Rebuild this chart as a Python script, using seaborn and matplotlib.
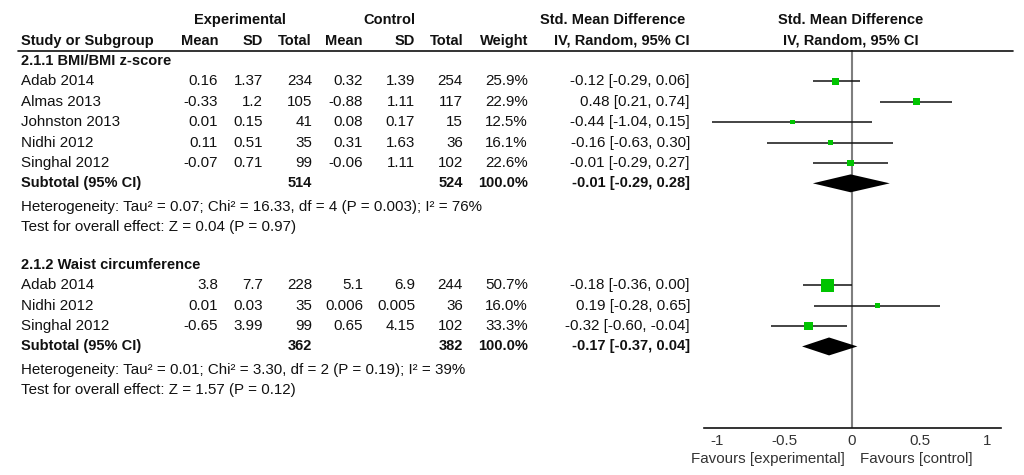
import numpy as np
import pandas as pd
import seaborn as sns
import matplotlib.pyplot as plt
from matplotlib.lines import Line2D
import matplotlib.transforms as mtransforms

'''------------------------------ Data -----------------------------------'''
grp1_title = '2.1.1 BMI/BMI z-score'
grp1_study = ['Adab 2014', 'Almas 2013', 'Johnston 2013', 'Nidhi 2012', 'Singhal 2012']
grp1_e_mean = ['0.16', '-0.33', '0.01', '0.11', '-0.07']
grp1_e_sd = ['1.37', '1.2', '0.15', '0.51', '0.71']
grp1_e_n = [234, 105, 41, 35, 99]
grp1_c_mean = ['0.32', '-0.88', '0.08', '0.31', '-0.06']
grp1_c_sd = ['1.39', '1.11', '0.17', '1.63', '1.11']
grp1_c_n = [254, 117, 15, 36, 102]
grp1_weight = [25.9, 22.9, 12.5, 16.1, 22.6]
grp1_smd = [-0.12, 0.48, -0.44, -0.16, -0.01]
grp1_lo = [-0.29, 0.21, -1.04, -0.63, -0.29]
grp1_hi = [0.06, 0.74, 0.15, 0.30, 0.27]
grp1_sub = (-0.01, -0.29, 0.28)
grp1_het = 'Heterogeneity: Tau² = 0.07; Chi² = 16.33, df = 4 (P = 0.003); I² = 76%'
grp1_test = 'Test for overall effect: Z = 0.04 (P = 0.97)'

grp2_title = '2.1.2 Waist circumference'
grp2_study = ['Adab 2014', 'Nidhi 2012', 'Singhal 2012']
grp2_e_mean = ['3.8', '0.01', '-0.65']
grp2_e_sd = ['7.7', '0.03', '3.99']
grp2_e_n = [228, 35, 99]
grp2_c_mean = ['5.1', '0.006', '0.65']
grp2_c_sd = ['6.9', '0.005', '4.15']
grp2_c_n = [244, 36, 102]
grp2_weight = [50.7, 16.0, 33.3]
grp2_smd = [-0.18, 0.19, -0.32]
grp2_lo = [-0.36, -0.28, -0.60]
grp2_hi = [0.00, 0.65, -0.04]
grp2_sub = (-0.17, -0.37, 0.04)
grp2_het = 'Heterogeneity: Tau² = 0.01; Chi² = 3.30, df = 2 (P = 0.19); I² = 39%'
grp2_test = 'Test for overall effect: Z = 1.57 (P = 0.12)'

x_ticks = [-1, -0.5, 0, 0.5, 1]
x_tick_labels = ['-1', '-0.5', '0', '0.5', '1']

'''------------------------------ Layout -----------------------------------'''
W, H = 1024, 475
sns.set_style("white")
plt.rcParams['font.family'] = ['Liberation Sans', 'DejaVu Sans']
fs = 10.9       # regular text
fs_b = 10.5     # bold text
green = '#00c400'

# columns (pixel x, right aligned)
col_study = 21
col_right = [218, 263, 312, 363, 415, 463, 528, 690]

fig = plt.figure(figsize=(W / 100, H / 100), dpi=100)
ax = fig.add_axes([704 / W, (H - 428) / H, 297 / W, 378 / H])
ax.set_xlim((704 - 852) / 135, (1001 - 852) / 135)
ax.set_ylim(18, -0.54)

tr = mtransforms.blended_transform_factory(fig.transFigure, ax.transData)


def put(px, row, s, ha='right', bold=False, color='#111111'):
  ax.text(px / W, row, s, transform=tr, ha=ha, va='center', fontsize=fs_b if bold else fs,
          fontweight='bold' if bold else 'normal', color=color, clip_on=False)


# headers
put(240, -2, 'Experimental', ha='center', bold=True)
put(389, -2, 'Control', ha='center', bold=True)
put(685, -2, 'Std. Mean Difference', bold=True)
put(851, -2, 'Std. Mean Difference', ha='center', bold=True)
put(col_study, -1, 'Study or Subgroup', ha='left', bold=True)
for px, s in zip(col_right, ['Mean', 'SD', 'Total', 'Mean', 'SD', 'Total', 'Weight', 'IV, Random, 95% CI']):
  put(px, -1, s, bold=True)
put(851, -1, 'IV, Random, 95% CI', ha='center', bold=True)
fig.add_artist(Line2D([18 / W, 1013 / W], [(H - 51) / H] * 2, color='#111111', lw=1.2))

rows_all, smd_all, lo_all, hi_all, w_all = [], [], [], [], []
subs = []

groups = [
  (0, grp1_title, grp1_study, grp1_e_mean, grp1_e_sd, grp1_e_n, grp1_c_mean, grp1_c_sd, grp1_c_n,
   grp1_weight, grp1_smd, grp1_lo, grp1_hi, grp1_sub, grp1_het, grp1_test),
  (10, grp2_title, grp2_study, grp2_e_mean, grp2_e_sd, grp2_e_n, grp2_c_mean, grp2_c_sd, grp2_c_n,
   grp2_weight, grp2_smd, grp2_lo, grp2_hi, grp2_sub, grp2_het, grp2_test),
]

for (r0, title, study, em, esd, en, cm, csd, cn, wt, smd, lo, hi, sub, het, test) in groups:
  put(col_study, r0, title, ha='left', bold=True)
  for i in range(len(study)):
    r = r0 + 1 + i
    put(col_study, r, study[i], ha='left')
    vals = [em[i], esd[i], str(en[i]), cm[i], csd[i], str(cn[i]), '{:.1f}%'.format(wt[i]),
            '{:.2f} [{:.2f}, {:.2f}]'.format(smd[i], lo[i], hi[i])]
    for px, s in zip(col_right, vals):
      put(px, r, s)
    rows_all.append(r)
    smd_all.append(smd[i])
    lo_all.append(lo[i])
    hi_all.append(hi[i])
    w_all.append(wt[i])
  rs = r0 + 1 + len(study)
  put(col_study, rs, 'Subtotal (95% CI)', ha='left', bold=True)
  put(col_right[2], rs, str(sum(en)), bold=True)
  put(col_right[5], rs, str(sum(cn)), bold=True)
  put(col_right[6], rs, '100.0%', bold=True)
  put(col_right[7], rs, '{:.2f} [{:.2f}, {:.2f}]'.format(*sub), bold=True)
  put(col_study, rs + 1.15, het, ha='left')
  put(col_study, rs + 2.13, test, ha='left')
  subs.append((rs, sub))

'''------------------------------ Forest -----------------------------------'''
ax.axvline(0, color='#7f7f7f', lw=1.5, zorder=1)
ax.hlines(rows_all, lo_all, hi_all, color='#111111', lw=1.1, zorder=2)

df = pd.DataFrame({'row': rows_all, 'smd': smd_all, 'weight': w_all})
# square side grows with weight (px), area passed to scatter
df['side'] = (1.8 + 0.21 * df['weight']) * 0.72
df['area'] = df['side'] ** 2
sns.scatterplot(data=df, x='smd', y='row', size='area', sizes=(0, df['area'].max()),
                size_norm=(0, df['area'].max()), marker='s', color=green, edgecolor='none',
                legend=False, ax=ax, zorder=3)

for rs, (m, l, h) in subs:
  ax.fill([l, m, h, m], [rs, rs - 0.44, rs, rs + 0.44], color='black', lw=0, zorder=4)

for s in ['top', 'left', 'right']:
  ax.spines[s].set_visible(False)
ax.spines['bottom'].set_color('#111111')
ax.spines['bottom'].set_linewidth(1.2)
ax.set_xticks(x_ticks)
ax.set_xticklabels(x_tick_labels)
ax.tick_params(axis='x', direction='inout', length=9, width=1.2, color='#111111',
               labelsize=fs, labelcolor='#333333', pad=0)
ax.set_yticks([])
ax.set_xlabel('')
ax.set_ylabel('')

fig.text(845 / W, (H - 459) / H, 'Favours [experimental]', ha='right', va='center', fontsize=fs, color='#333333')
fig.text(860 / W, (H - 459) / H, 'Favours [control]', ha='left', va='center', fontsize=fs, color='#333333')

fig.savefig('out.png', dpi=100)
